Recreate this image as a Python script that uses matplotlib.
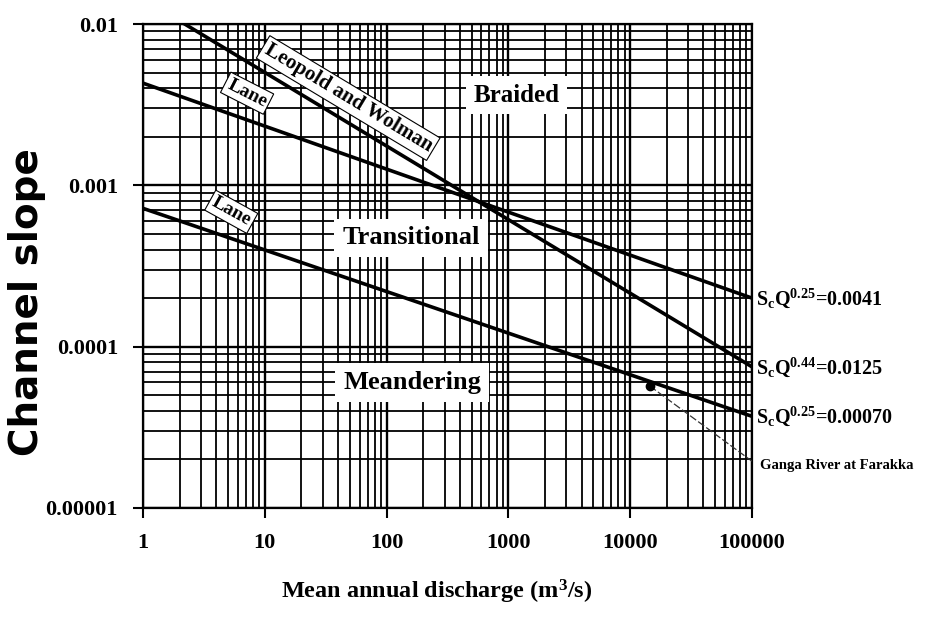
import matplotlib

matplotlib.use("Agg")
import matplotlib.pyplot as plt
from matplotlib.ticker import FixedLocator, LogLocator, NullFormatter

# (endpoints of the straight lines on log-log paper)
lane_upper_q = [1, 100000]
lane_upper_s = [0.0043, 0.0002]
leopold_q = [2.2, 100000]
leopold_s = [0.01, 0.000075]
lane_lower_q = [1, 100000]
lane_lower_s = [0.00072, 0.000037]
ganga_q = [14500, 100000]
ganga_s = [0.000057, 0.0000195]

x_ticks = [1, 10, 100, 1000, 10000, 100000]
x_tick_labels = ["1", "10", "100", "1000", "10000", "100000"]
y_ticks = [0.00001, 0.0001, 0.001, 0.01]
y_tick_labels = ["0.00001", "0.0001", "0.001", "0.01"]

end_labels = [
    r"$\mathregular{S_cQ^{0.25}}$=0.0041",
    r"$\mathregular{S_cQ^{0.44}}$=0.0125",
    r"$\mathregular{S_cQ^{0.25}}$=0.00070",
]

plt.rcParams["font.family"] = ["Liberation Serif", "DejaVu Serif"]

fig = plt.figure(figsize=(9.43, 6.17), dpi=100)
ax = fig.add_axes([0.1516, 0.1767, 0.6458, 0.7844])
ax.set_xscale("log")
ax.set_yscale("log")
ax.set_xlim(1, 100000)
ax.set_ylim(0.00001, 0.01)

# dense graph-paper grid
ax.xaxis.set_minor_locator(LogLocator(base=10, subs=range(2, 10), numticks=20))
ax.yaxis.set_minor_locator(LogLocator(base=10, subs=range(2, 10), numticks=20))
ax.xaxis.set_minor_formatter(NullFormatter())
ax.yaxis.set_minor_formatter(NullFormatter())
ax.grid(which="major", color="black", linewidth=1.7)
ax.grid(which="minor", color="black", linewidth=1.3)
ax.set_axisbelow(True)

ax.xaxis.set_major_locator(FixedLocator(x_ticks))
ax.yaxis.set_major_locator(FixedLocator(y_ticks))
ax.set_xticklabels(x_tick_labels, fontsize=16, fontweight="bold")
ax.set_yticklabels(y_tick_labels, fontsize=16, fontweight="bold")
ax.tick_params(which="major", direction="out", length=7, width=1.5, pad=11)
ax.tick_params(which="minor", length=0)
for spine in ax.spines.values():
    spine.set_linewidth(1.6)

ax.plot(lane_upper_q, lane_upper_s, color="black", linewidth=2.6, zorder=3)
ax.plot(leopold_q, leopold_s, color="black", linewidth=2.6, zorder=3)
ax.plot(lane_lower_q, lane_lower_s, color="black", linewidth=2.6, zorder=3)
ax.plot(ganga_q, ganga_s, color="#333333", linewidth=0.9, linestyle=(0, (6, 2)), zorder=3)
ax.plot(ganga_q[0], ganga_s[0], marker="o", color="black", markersize=6, zorder=4)

# equation labels at the right ends of the lines
for y_end, text in zip([lane_upper_s[1], leopold_s[1], lane_lower_s[1]], end_labels):
    ax.annotate(text, (100000, y_end), xytext=(3, 0), textcoords="offset points",
                ha="left", va="center", fontsize=14.5, fontweight="bold", annotation_clip=False)
ax.annotate("Ganga River at Farakka", (100000, ganga_s[1]), xytext=(6, -3),
            textcoords="offset points", ha="left", va="center", fontsize=10.5,
            fontweight="bold", annotation_clip=False)

line_box = dict(boxstyle="square,pad=0.15", facecolor="white", edgecolor="black", linewidth=0.8)
region_box = dict(boxstyle="square,pad=0.3", facecolor="white", edgecolor="none")

ax.text(0.171, 0.857, "Lane", transform=ax.transAxes, rotation=-27, ha="center", va="center",
        fontsize=14, fontweight="bold", bbox=line_box, zorder=5)
ax.text(0.337, 0.847, "Leopold and Wolman", transform=ax.transAxes, rotation=-31, ha="center",
        va="center", fontsize=15, fontweight="bold", bbox=line_box, zorder=5)
ax.text(0.145, 0.612, "Lane", transform=ax.transAxes, rotation=-29, ha="center", va="center",
        fontsize=14, fontweight="bold", bbox=line_box, zorder=5)

ax.text(0.614, 0.853, "Braided", transform=ax.transAxes, ha="center", va="center",
        fontsize=18, fontweight="bold", bbox=region_box, zorder=5)
ax.text(0.440, 0.558, "Transitional", transform=ax.transAxes, ha="center", va="center",
        fontsize=19, fontweight="bold", bbox=region_box, zorder=5)
ax.text(0.442, 0.260, "Meandering", transform=ax.transAxes, ha="center", va="center",
        fontsize=19, fontweight="bold", bbox=region_box, zorder=5)

fig.text(0.029, 0.511, "Channel slope", rotation=90, ha="center", va="center",
         fontsize=28, fontweight="bold", family="DejaVu Sans")
fig.text(0.463, 0.0405, "Mean annual discharge (m$\\mathregular{^3}$/s)", ha="center", va="center",
         fontsize=17.5, fontweight="bold")

fig.savefig("out.png", dpi=100)
